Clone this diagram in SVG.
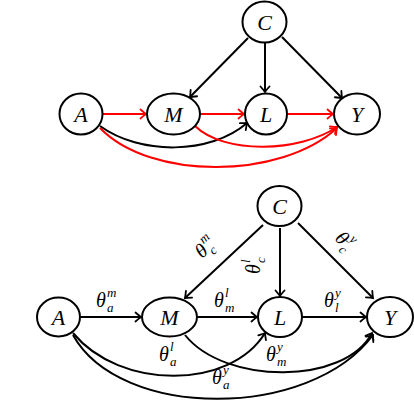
<svg xmlns="http://www.w3.org/2000/svg" width="414" height="402" viewBox="0 0 414 402">
<style>
.n{fill:#fff;stroke:#000;stroke-width:2}
.t{font-family:"Liberation Serif",serif;font-style:italic;font-size:22px;text-anchor:middle}
.e{fill:none;stroke:#000;stroke-width:2}
.r{fill:none;stroke:#f00;stroke-width:2}
.lb{font-family:"Liberation Serif",serif;font-style:italic;font-size:20px}
.s{font-size:13px}
</style>
<defs>
<marker id="ab" markerUnits="userSpaceOnUse" markerWidth="12" markerHeight="12" viewBox="-7 -6 8 12" refX="0" refY="0" orient="auto">
<path d="M-5.5,-4.5 Q-1.5,-1 0,0 Q-1.5,1 -5.5,4.5" fill="none" stroke="#000" stroke-width="1.8" stroke-linecap="round"/>
</marker>
<marker id="ar" markerUnits="userSpaceOnUse" markerWidth="12" markerHeight="12" viewBox="-7 -6 8 12" refX="0" refY="0" orient="auto">
<path d="M-5.5,-4.5 Q-1.5,-1 0,0 Q-1.5,1 -5.5,4.5" fill="none" stroke="#f00" stroke-width="1.8" stroke-linecap="round"/>
</marker>
</defs>
<g id="edges-top">
<path class="e" d="M248,38 L190,97" marker-end="url(#ab)"/>
<path class="e" d="M265,43 L265,92" marker-end="url(#ab)"/>
<path class="e" d="M282,37 L342,98" marker-end="url(#ab)"/>
<path class="r" d="M103,114 L146,114" marker-end="url(#ar)"/>
<path class="r" d="M200,114 L244,114" marker-end="url(#ar)"/>
<path class="r" d="M287,114 L333,114" marker-end="url(#ar)"/>
<path class="e" d="M100,126 C140,155 210,155 247,123" marker-end="url(#ab)"/>
<path class="r" d="M195,126 C225,155 300,152 337,127" marker-end="url(#ar)"/>
<path class="r" d="M100,128 C150,180 280,180 337,128" marker-end="url(#ar)"/>
</g>
<g id="top-C"><ellipse class="n" cx="264.5" cy="22" rx="22" ry="20.5"/><text class="t" x="264.5" y="29.5">C</text></g>
<g id="top-A"><ellipse class="n" cx="81" cy="114" rx="21.5" ry="20.5"/><text class="t" x="81" y="121.5">A</text></g>
<g id="top-M"><ellipse class="n" cx="173.5" cy="114" rx="26.5" ry="20.5"/><text class="t" x="173.5" y="121.5">M</text></g>
<g id="top-L"><ellipse class="n" cx="266" cy="114" rx="21" ry="20.5"/><text class="t" x="266" y="121.5">L</text></g>
<g id="top-Y"><ellipse class="n" cx="357" cy="114" rx="23" ry="20.5"/><text class="t" x="357" y="121.5">Y</text></g>

<g id="edges-bottom">
<path class="e" d="M263,225 L185,298" marker-end="url(#ab)"/>
<path class="e" d="M280,228 L280,296" marker-end="url(#ab)"/>
<path class="e" d="M298,223 L373,298" marker-end="url(#ab)"/>
<path class="e" d="M80,317 L141,317" marker-end="url(#ab)"/>
<path class="e" d="M197,317 L257,317" marker-end="url(#ab)"/>
<path class="e" d="M302,317 L366,317" marker-end="url(#ab)"/>
<path class="e" d="M73,333 C120,390 230,390 265,333" marker-end="url(#ab)"/>
<path class="e" d="M73,335 C120,420 310,420 373,335" marker-end="url(#ab)"/>
<path class="e" d="M185,335 C225,385 345,385 372,333" marker-end="url(#ab)"/>
<text class="lb" x="96" y="307">θ<tspan class="s" x="107" y="297">m</tspan><tspan class="s" x="107" y="312">a</tspan></text>
<text class="lb" x="214" y="307">θ<tspan class="s" x="225" y="297">l</tspan><tspan class="s" x="225" y="312">m</tspan></text>
<text class="lb" x="324" y="307">θ<tspan class="s" x="335" y="297">y</tspan><tspan class="s" x="335" y="312">l</tspan></text>
<text class="lb" x="159" y="361">θ<tspan class="s" x="170" y="351">l</tspan><tspan class="s" x="170" y="366">a</tspan></text>
<text class="lb" x="266" y="361">θ<tspan class="s" x="277" y="351">y</tspan><tspan class="s" x="277" y="366">m</tspan></text>
<text class="lb" x="212" y="384">θ<tspan class="s" x="223" y="374">y</tspan><tspan class="s" x="223" y="389">a</tspan></text>
<text class="lb" transform="translate(202,259) rotate(-42)" x="0" y="0">θ<tspan class="s" x="11" y="-10">m</tspan><tspan class="s" x="11" y="5">c</tspan></text>
<text class="lb" transform="translate(260,274) rotate(-90)" x="0" y="0">θ<tspan class="s" x="11" y="-10">l</tspan><tspan class="s" x="11" y="5">c</tspan></text>
<text class="lb" transform="translate(334,239) rotate(46)" x="0" y="0">θ<tspan class="s" x="11" y="-10">y</tspan><tspan class="s" x="11" y="5">c</tspan></text>
</g>
<g id="bot-C"><ellipse class="n" cx="279.5" cy="206" rx="22" ry="20"/><text class="t" x="279.5" y="213.5">C</text></g>
<g id="bot-A"><ellipse class="n" cx="58.5" cy="317" rx="21.5" ry="19.5"/><text class="t" x="58.5" y="324.5">A</text></g>
<g id="bot-M"><ellipse class="n" cx="169.5" cy="317" rx="27.5" ry="19.5"/><text class="t" x="169.5" y="324.5">M</text></g>
<g id="bot-L"><ellipse class="n" cx="280" cy="317" rx="22" ry="20"/><text class="t" x="280" y="324.5">L</text></g>
<g id="bot-Y"><ellipse class="n" cx="390" cy="317" rx="23" ry="20"/><text class="t" x="390" y="324.5">Y</text></g>
</svg>
